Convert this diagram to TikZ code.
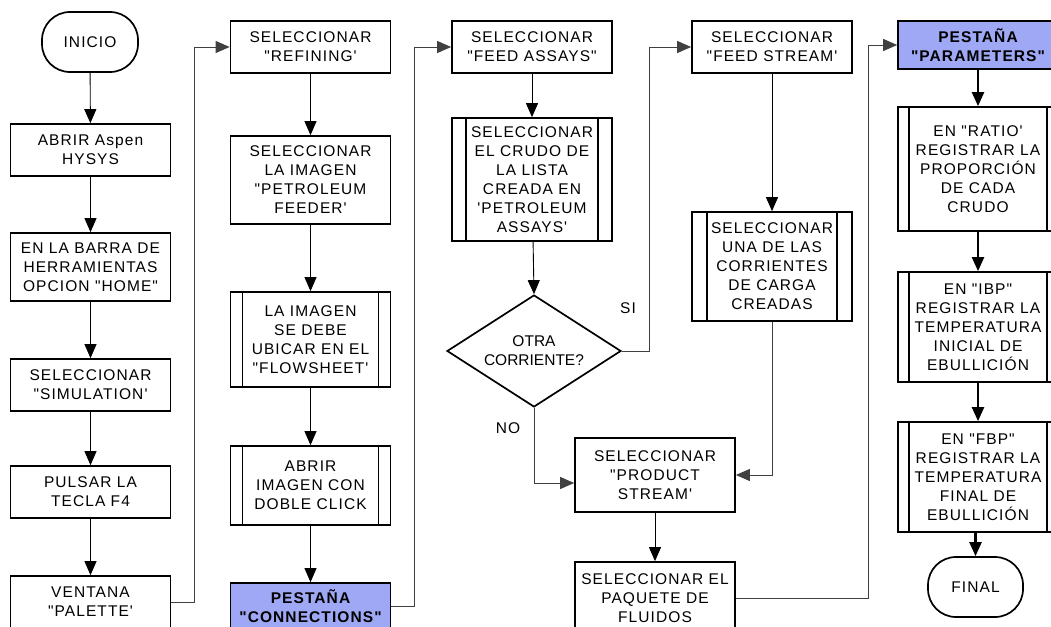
\documentclass[tikz,border=0pt]{standalone}
\usepackage{fontspec}
\setmainfont{Liberation Sans}[Ligatures=TeXOff, LetterSpace=7]
\usetikzlibrary{shapes.geometric, arrows.meta, calc}

\definecolor{tabblue}{RGB}{158,168,245}

\tikzset{
  base/.style={draw=black, line width=1.7pt, align=center, inner sep=2pt,
    font=\fontsize{15.5}{19}\selectfont},
  proc/.style={base, rectangle, minimum width=160pt, minimum height=#1},
  subproc/.style 2 args={proc=#1, path picture={
      \draw[line width=1.7pt]
        ([xshift=#2]path picture bounding box.north west) --
        ([xshift=#2]path picture bounding box.south west)
        ([xshift=-#2]path picture bounding box.north east) --
        ([xshift=-#2]path picture bounding box.south east);}},
  tab/.style={proc=#1, fill=tabblue,
    font=\bfseries\fontsize{15.5}{19}\selectfont},
  terminal/.style={base, rectangle, rounded corners=28pt,
    minimum width=96pt, minimum height=60pt},
  decision/.style={base, diamond, aspect=1.55, inner sep=0pt,
    minimum width=174pt, minimum height=112pt,
    font=\fontsize{15.5}{19}\selectfont\addfontfeature{LetterSpace=0}},
  lbl/.style={inner sep=0pt, font=\fontsize{15.5}{19}\selectfont},
  flow/.style={draw=black, line width=0.9pt,
    -{Triangle[length=14pt,width=12pt]}},
  loop/.style={flow, draw=black!75},
  flowthick/.style={flow, line width=2.2pt}
}

\begin{document}
\begin{tikzpicture}[x=1pt, y=-1pt]
\useasboundingbox (0,0) rectangle (1051,626);
\clip (0,0) rectangle (1051,626);

% first column
\node[terminal] (inicio) at (90,42) {INICIO};
\node[proc=52pt] (abrir) at (90.5,150) {ABRIR Aspen\\HYSYS};
\node[proc=68pt] (barra) at (90.5,267) {EN LA BARRA DE\\HERRAMIENTAS\\OPCION "HOME"};
\node[proc=52pt] (simul) at (90.5,385) {SELECCIONAR\\"SIMULATION'};
\node[proc=52pt] (pulsar) at (90.5,492) {PULSAR LA\\TECLA F4};
\node[proc=52pt] (ventana) at (90.5,602) {VENTANA\\"PALETTE'};

% second column
\node[proc=52pt] (refining) at (310.5,47) {SELECCIONAR\\"REFINING'};
\node[proc=88pt] (feeder) at (310.5,180) {SELECCIONAR\\LA IMAGEN\\"PETROLEUM\\FEEDER'};
\node[subproc={95pt}{12pt}] (flowsheet) at (310.5,339.5) {LA IMAGEN\\SE DEBE\\UBICAR EN EL\\"FLOWSHEET'};
\node[subproc={79pt}{12pt}] (doble) at (310.5,485.5) {ABRIR\\IMAGEN CON\\DOBLE CLICK};
\node[tab=46pt] (connections) at (310.5,606) {PESTAÑA\\"CONNECTIONS"};

% third column
\node[proc=52pt] (feedassays) at (532,47) {SELECCIONAR\\"FEED ASSAYS"};
\node[subproc={123pt}{14pt}] (crudo) at (532,179.5) {SELECCIONAR\\EL CRUDO DE\\LA LISTA\\CREADA EN\\'PETROLEUM\\ASSAYS'};
\node[decision] (otra) at (534,351) {OTRA\\CORRIENTE?};
\node[lbl] (si) at (628,308) {SI};
\node[lbl] (no) at (508,428) {NO};

% fourth column
\node[proc=52pt] (feedstream) at (772,47) {SELECCIONAR\\"FEED STREAM'};
\node[subproc={109pt}{15pt}] (carga) at (772,266.5) {SELECCIONAR\\UNA DE LAS\\CORRIENTES\\DE CARGA\\CREADAS};
\node[proc=74pt] (product) at (655,475) {SELECCIONAR\\"PRODUCT\\STREAM'};
\node[proc=72pt] (paquete) at (655,598) {SELECCIONAR EL\\PAQUETE DE\\FLUIDOS};

% fifth column
\node[tab=48pt] (parameters) at (978,45) {PESTAÑA\\"PARAMETERS"};
\node[subproc={124pt}{11pt}] (ratio) at (978,169) {EN "RATIO'\\REGISTRAR LA\\PROPORCIÓN\\DE CADA\\CRUDO};
\node[subproc={110pt}{11pt}] (ibp) at (978,327) {EN "IBP"\\REGISTRAR LA\\TEMPERATURA\\INICIAL DE\\EBULLICIÓN};
\node[subproc={110pt}{11pt}] (fbp) at (978,477) {EN "FBP"\\REGISTRAR LA\\TEMPERATURA\\FINAL DE\\EBULLICIÓN};
\node[terminal, minimum width=95pt] (final) at (975.5,587) {FINAL};

% straight connectors
\draw[flow] (inicio) -- (abrir);
\draw[flow] (abrir) -- (barra);
\draw[flow] (barra) -- (simul);
\draw[flow] (simul) -- (pulsar);
\draw[flow] (pulsar) -- (ventana);
\draw[flow] (refining) -- (feeder);
\draw[flow] (feeder) -- (flowsheet);
\draw[flow] (flowsheet) -- (doble);
\draw[flow] (doble) -- (connections);
\draw[flow] (feedassays) -- (crudo);
\draw[flow] (crudo) -- (otra.north);
\draw[flow] (feedstream) -- (carga);
\draw[flow] (product) -- (paquete);
\draw[flowthick] (parameters) -- (ratio);
\draw[flowthick] (ratio) -- (ibp);
\draw[flowthick] (ibp) -- (fbp);
\draw[flowthick] (fbp.south -| final.north) -- (final.north);

% routed connectors between columns
\draw[loop] (ventana.east) -- ++(23,0) |- (refining.west);
\draw[loop] (connections.east) -- ++(23,0) |- (feedassays.west);
\draw[loop] (otra.east) -- ++(28,0) |- (feedstream.west);
\draw[loop] (otra.south) |- ($(product.west)+(0,8)$);
\draw[loop] (carga.south) |- (product.east);
\draw[loop] (paquete.east) -- ++(133,0) |- (parameters.west);
\end{tikzpicture}
\end{document}
